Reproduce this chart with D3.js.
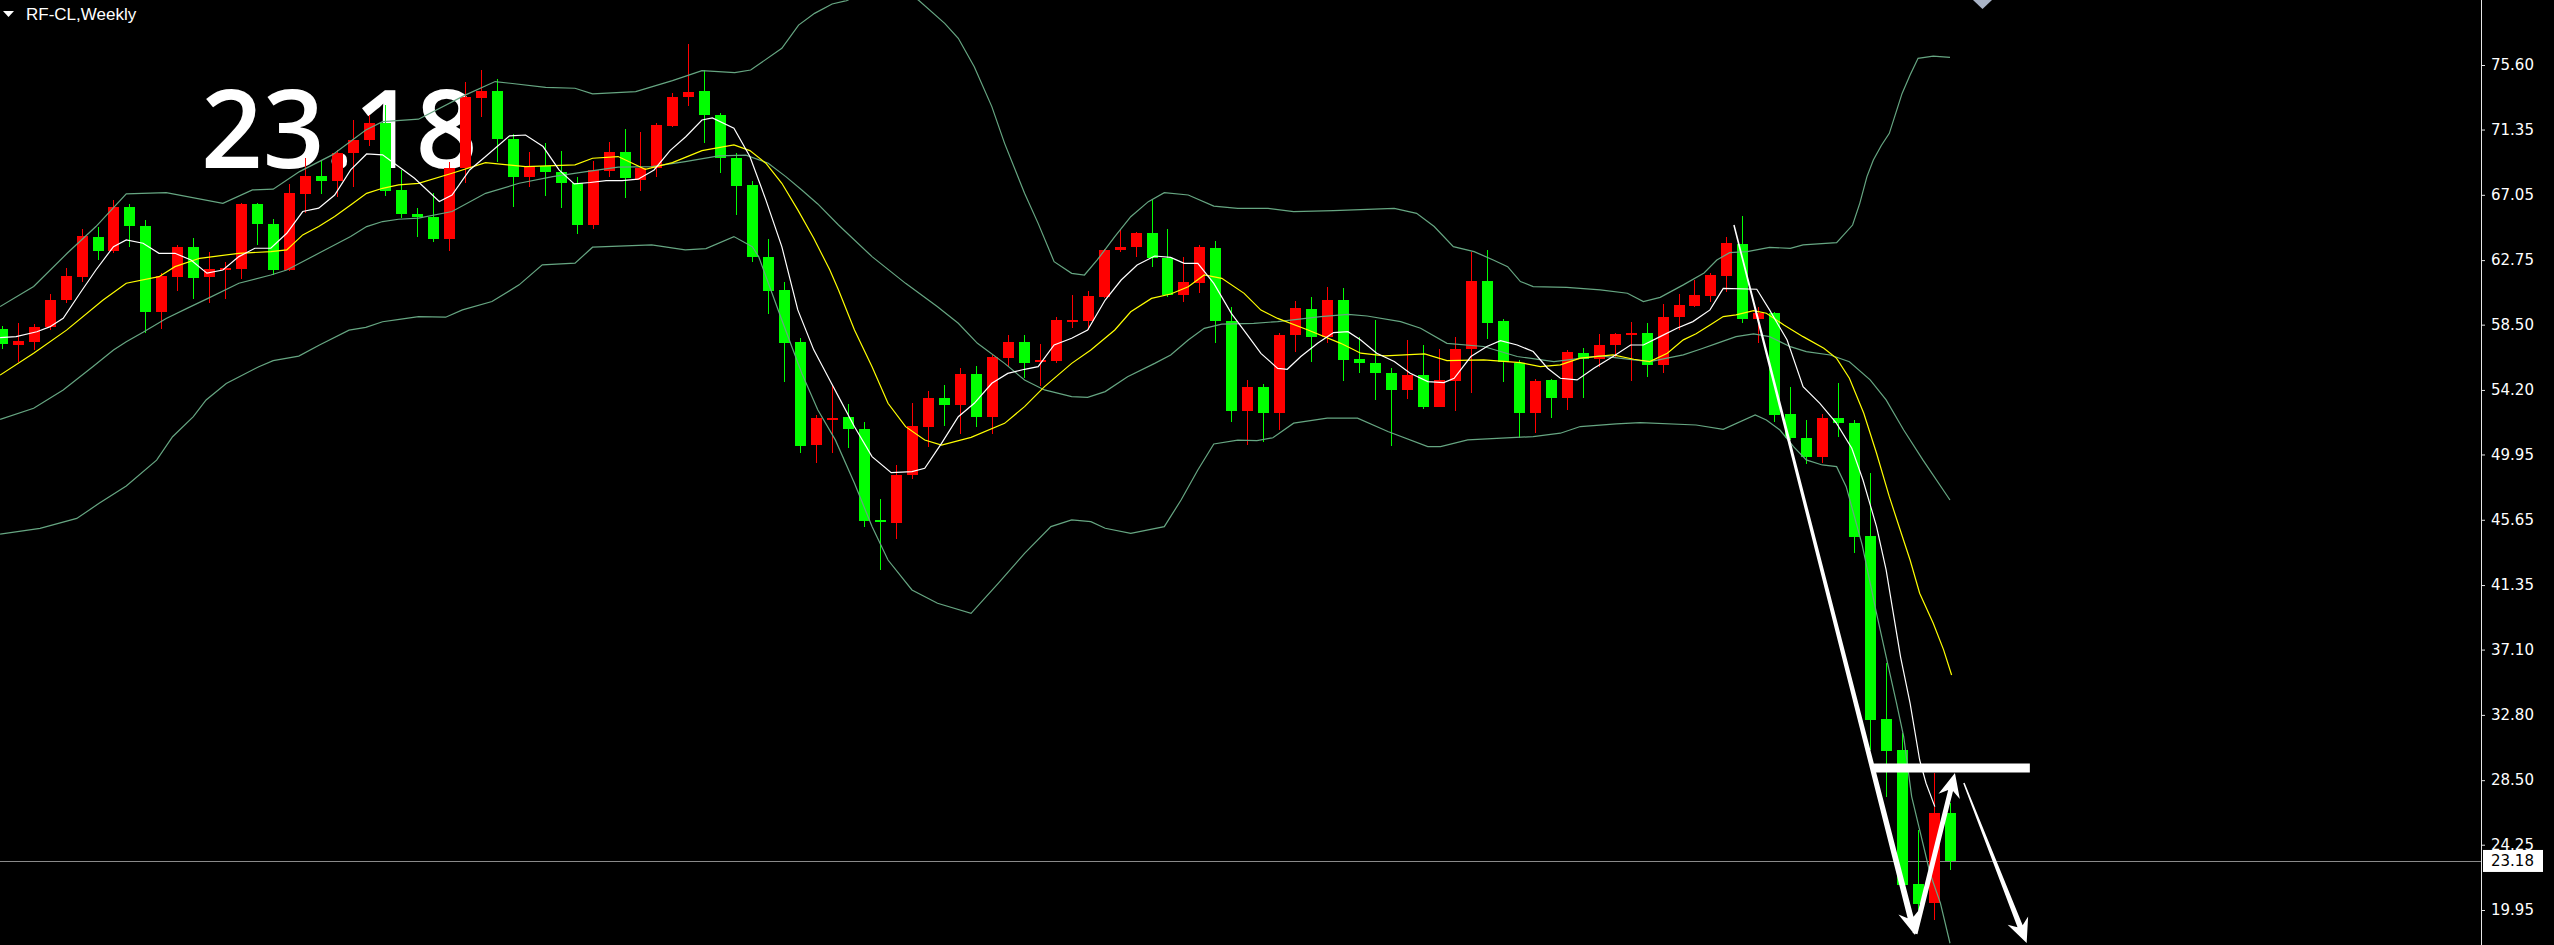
<!DOCTYPE html>
<html>
<head>
<meta charset="utf-8">
<script src="https://cdn.jsdelivr.net/npm/d3@7"></script>
<style>
  html, body { margin: 0; padding: 0; background: #000; overflow: hidden; }
  svg { display: block; }
</style>
</head>
<body>
<svg id="chart" width="2554" height="945"></svg>
<script>
// Weekly candles (bar 1 = leftmost, partly cut off)
const opens = [58.20,57.19,57.38,58.37,60.13,61.62,64.25,63.38,66.27,65.00,
  59.36,61.66,63.60,61.62,62.10,62.15,66.45,65.13,62.10,67.11,
  68.29,67.99,69.79,70.67,71.81,67.37,65.79,65.57,64.15,68.80,
  73.45,73.89,70.71,68.25,68.95,68.58,67.81,65.07,68.65,69.90,
  68.03,68.80,71.59,73.48,73.89,72.31,69.46,67.70,62.94,60.79,
  57.39,50.58,52.34,52.40,51.61,45.64,45.46,48.60,51.78,53.65,
  53.21,55.25,52.44,56.28,57.33,56.04,56.13,58.70,58.76,60.34,
  63.42,63.63,64.51,62.87,60.45,61.26,63.52,58.76,52.84,54.42,
  52.66,57.82,59.51,57.67,60.13,56.22,56.00,55.30,54.20,55.19,
  53.10,54.82,56.88,61.38,58.74,56.00,52.66,54.86,53.65,56.66,
  56.22,57.16,57.87,57.98,55.85,58.99,59.73,60.39,61.70,63.81,
  58.87,59.29,52.62,51.01,49.76,52.33,52.05,44.58,32.51,30.49,
  21.67,20.40,26.37];
const highs = [58.40,58.59,58.55,60.52,62.21,64.78,64.96,66.71,66.45,65.40,
  61.88,63.75,64.19,63.31,62.65,66.54,66.54,65.44,67.77,69.46,
  69.35,70.01,71.98,72.31,72.97,68.69,66.16,67.15,69.24,74.51,
  75.28,74.66,71.06,69.90,70.45,69.96,68.25,69.31,70.56,71.37,
  71.22,71.76,73.74,76.99,75.28,72.47,69.83,67.99,64.12,61.34,
  57.61,52.56,54.53,53.28,52.11,47.00,49.26,53.32,54.15,54.53,
  55.62,55.78,56.50,57.82,57.82,57.22,59.03,60.45,60.74,63.46,
  64.78,64.62,66.71,64.78,62.98,63.74,64.03,59.68,54.85,54.59,
  57.98,60.08,60.30,60.96,60.90,57.71,58.81,55.63,57.49,57.16,
  56.88,57.71,63.31,63.42,58.85,56.18,54.90,54.90,56.84,56.95,
  57.89,57.98,58.70,58.63,59.86,60.52,61.45,61.92,64.29,65.66,
  59.68,59.36,54.42,52.22,52.62,54.64,52.22,48.71,36.20,31.59,
  25.22,28.96,26.98];
const lows = [56.90,56.07,56.83,58.15,59.91,61.33,62.76,63.20,63.64,57.98,
  58.20,60.74,60.17,59.95,60.17,61.49,63.75,61.77,62.06,65.83,
  67.11,66.93,67.59,70.27,66.98,65.51,64.25,63.97,63.38,67.81,
  72.16,69.24,66.28,67.59,66.94,66.17,64.48,64.78,68.21,66.83,
  67.33,68.25,71.50,72.90,70.45,68.47,65.73,62.65,59.21,54.75,
  50.08,49.42,50.08,50.36,45.15,42.34,44.36,48.31,50.42,51.83,
  51.30,51.78,51.30,55.69,54.96,54.46,55.95,58.26,58.15,60.23,
  63.31,62.98,62.27,60.34,60.01,60.61,57.31,52.11,50.57,50.79,
  51.57,56.73,56.07,57.32,54.82,55.34,53.54,50.51,53.59,52.93,
  53.06,52.84,53.98,57.54,54.75,51.02,51.39,52.34,52.88,53.65,
  55.74,56.29,54.82,55.04,55.34,58.15,59.69,60.01,60.67,58.63,
  57.31,52.11,50.90,49.32,49.41,51.12,43.44,30.49,27.42,21.54,
  19.96,19.30,22.59];
const closes = [57.23,57.43,58.37,60.13,61.71,64.34,63.38,66.27,65.02,59.36,
  61.71,63.60,61.55,62.15,62.23,66.45,65.13,62.10,67.20,68.29,
  67.99,69.79,70.67,71.76,67.33,65.79,65.57,64.15,68.80,73.52,
  73.89,70.71,68.25,68.95,68.58,67.81,65.07,68.69,69.90,68.14,
  68.80,71.65,73.48,73.85,72.31,69.46,67.64,62.98,60.74,57.28,
  50.52,52.34,52.38,51.61,45.59,45.50,48.60,51.83,53.65,53.21,
  55.25,52.44,56.39,57.33,56.00,56.17,58.81,58.81,60.39,63.42,
  63.63,64.51,62.87,60.45,61.33,63.59,58.76,52.84,54.42,52.66,
  57.82,59.58,57.67,60.13,56.18,56.00,55.34,54.20,55.19,53.06,
  54.86,56.88,61.38,58.63,56.07,52.66,54.82,53.65,56.73,56.22,
  57.16,57.89,57.98,55.85,58.99,59.80,60.46,61.77,63.90,58.87,
  59.29,52.55,51.01,49.76,52.33,52.05,44.54,32.47,30.45,21.60,
  20.35,26.37,23.18];

// Indicator lines, read as [bar, price]
const maFast = [[0.9,57.65],[1.9,57.71],[3.2,58.03],[4,58.35],[4.85,58.92],[5.9,60.57],[6.9,62.1],[8,63.64],[8.8,64.08],[9.85,63.86],
  [10.85,63.2],[11.85,63.2],[12.85,62.76],[13.85,61.89],[14.85,62.1],[15.85,62.98],[16.85,63.53],[17.85,63.53],[18.85,64.52],[19.85,65.95],
  [20.85,66.17],[21.85,67.04],[22.85,68.69],[23.85,69.74],[24.85,69.68],[25.85,68.91],[26.85,68.14],[28.4,66.61],[29.2,67.04],[30.3,68.69],
  [31.3,69.57],[32.8,70.93],[33.8,70.99],[34.9,70.23],[35.9,68.69],[36.85,67.77],[37.85,67.86],[38.85,67.99],[39.85,67.99],[40.85,68.08],
  [41.85,68.69],[42.85,69.96],[43.85,70.89],[44.85,71.98],[45.5,72.12],[46.85,71.43],[47.85,69.57],[48.85,66.72],[49.85,63.64],[50.85,59.47],
  [51.85,56.84],[52.85,54.86],[53.4,53.76],[54.4,51.78],[55.5,49.81],[56.7,48.75],[58,48.82],[58.8,49.04],[59.85,50.68],[60.9,52.44],
  [61.9,53.32],[63,54.64],[64,55.29],[65.05,55.56],[65.9,55.73],[66.9,57.16],[68,57.6],[69,58.15],[70.1,60.12],[71.1,61.44],
  [72.1,62.43],[73.2,63.02],[74.2,62.93],[75.05,62.54],[75.9,62.54],[76.9,61.22],[78,59.24],[79,57.82],[79.85,56.61],[80.9,55.62],
  [81.5,55.56],[82.35,56.4],[83.4,57.27],[84.4,57.98],[85.3,58.04],[86.1,57.49],[87.1,56.62],[88.2,56.07],[89.2,55.3],[90.3,54.75],
  [91.3,54.68],[91.95,54.97],[93,56.4],[94,57.06],[94.85,57.45],[95.9,57.16],[96.9,56.73],[97.8,55.63],[98.6,54.97],[99.65,54.86],
  [100.7,55.63],[101.9,56.4],[103,57.16],[103.8,57.16],[104.85,57.71],[105.9,58.26],[106.9,58.7],[107.97,59.47],[108.8,60.89],[110.9,60.83],
  [111.7,59.47],[112.8,57.49],[113.8,54.42],[114.85,53.32],[115.9,52],[116.85,50.36],[117.55,48.27],[118.4,45.2],[119,42.35],[119.45,39.49],
  [119.9,36.64],[120.5,33.57],[121.1,29.83],[121.5,28.3],[122.05,26.76]];

const maSlow = [[0.9,55.18],[3,56.61],[5.06,58.14],[7.35,60.12],[8.8,61.23],[10.85,61.66],[11.85,62.32],[13.4,62.87],[15.85,63.2],[17.85,63.31],
  [18.85,63.42],[19.85,64.41],[20.85,64.96],[21.85,65.62],[22.85,66.38],[23.85,67.15],[24.85,67.48],[25.85,67.7],[27.1,67.81],[29.2,68.47],
  [31.3,69.17],[33.8,68.91],[36.9,69.02],[38,69.46],[39.6,69.57],[41.3,68.73],[43,69.17],[44.85,69.96],[46.85,70.34],[47.85,69.96],
  [48.85,69.13],[49.85,67.81],[50.85,66.06],[51.85,64.19],[52.85,62.11],[53.4,60.78],[54.4,58.15],[55.5,55.73],[56.5,53.32],[57.6,51.78],
  [58.8,50.9],[59.85,50.57],[61.7,51.08],[63.8,52],[65.05,53.1],[66.3,54.42],[68,55.95],[69.2,56.83],[70.7,58.15],[71.7,59.35],
  [73,60.23],[74.2,60.52],[75.3,61],[76.3,61.77],[77.4,61.55],[78.8,60.56],[79.85,59.46],[80.9,58.91],[82.8,58.15],[84.85,57.27],
  [86.1,56.62],[87.6,56.44],[90.1,56.57],[91.5,56.13],[93.8,56.18],[96.1,56],[97.35,55.74],[98.6,55.85],[99.85,56.29],[101.9,56.51],
  [103.2,56.22],[104.2,56.07],[105.3,56.62],[106.3,57.5],[107.1,57.9],[108,58.5],[108.8,59.03],[109.6,59.14],[110.7,59.42],[111.5,59.25],
  [112.6,58.48],[113.8,57.71],[115.1,56.94],[115.9,56.28],[116.7,54.97],[117.6,52.66],[118.4,50.03],[119.2,47.17],[120,44.6],[120.5,43],
  [121.1,40.81],[121.95,38.83],[122.6,37.08],[123.1,35.43]];

const bandMid = [[0.9,52.26],[3,52.99],[4.85,54.19],[6.7,55.73],[8,56.83],[8.8,57.38],[9.85,58],[11.3,58.91],[12.6,59.57],[13.85,60.2],
  [15.85,61.23],[17.85,61.77],[18.85,62.1],[20.85,63.2],[22.85,64.3],[23.85,64.96],[24.85,65.29],[25.85,65.44],[27.1,65.51],[29.2,65.95],
  [31.3,67.15],[33.4,67.81],[35.5,68.25],[37.6,68.58],[39.6,68.87],[41.7,68.91],[43.8,69.24],[45.9,69.61],[47.6,69.66],[49,69.13],
  [50.1,68.25],[51.1,67.37],[52.1,66.45],[53.4,65.06],[55.5,62.98],[57.6,61.22],[59.6,59.68],[60.9,58.59],[62.1,57.27],[63.8,55.95],
  [65.05,54.85],[66.3,54.2],[68,53.76],[69,53.71],[70.1,54.09],[71.5,55.07],[73.2,55.95],[74.2,56.5],[75.3,57.49],[76.3,58.26],
  [77.4,58.54],[79.4,58.59],[80.9,58.7],[83.6,59.03],[85.3,59.18],[86.5,59.07],[88.6,58.7],[89.85,58.26],[91.5,57.27],[93.8,57.06],
  [95.9,56.4],[98.2,56.07],[101.1,56.44],[103.2,56.18],[104.2,56.07],[106.3,56.51],[107.4,56.9],[108.4,57.27],[109.6,57.71],[110.7,57.89],
  [111.7,57.71],[113,57.05],[114,56.72],[115.5,56.5],[116.7,56.06],[118,54.86],[119,53.54],[120.1,51.56],[121.3,49.59],[123,46.95]];

const bandUpper = [[0.9,59.69],[3,61.01],[5.1,63.2],[6.9,64.96],[8.8,67.11],[11.3,67.2],[14.85,66.49],[16.7,67.37],[18,67.42],[19.65,68.58],
  [21.7,69.68],[23.8,71.32],[24.85,71.87],[27.1,72.03],[30.05,73.63],[31.9,74.51],[35.06,74.13],[36.9,74.07],[38,73.7],[40.7,73.85],
  [43,74.57],[44.85,75.23],[46.9,75.1],[47.9,75.27],[49.85,76.7],[50.9,78.23],[51.9,79],[53,79.62],[53.9,79.84],[55.5,80.6],
  [57,80.6],[58.4,79.88],[60.05,78.34],[60.9,77.36],[61.9,75.49],[63,72.86],[63.8,70.44],[65.05,67.15],[65.9,65.17],[66.9,62.65],
  [68,61.88],[68.8,61.77],[69.6,62.76],[70.7,64.29],[71.7,65.61],[72.8,66.6],[73.8,67.19],[75.3,67.04],[76.9,66.31],[78.4,66.16],
  [80.3,66.16],[81.9,65.94],[84.4,66.01],[88.2,66.16],[89.6,65.83],[90.7,64.96],[91.9,63.64],[93.2,63.31],[94.4,62.76],[95.3,62.32],
  [96.1,61.34],[96.9,61.01],[99,60.96],[101.1,60.79],[102.8,60.57],[103.8,60.02],[104.85,60.3],[106.3,61.12],[107.6,61.9],[108.4,62.76],
  [109.2,63.24],[110.3,63.31],[111.7,63.59],[113,63.53],[113.8,63.75],[115.9,63.9],[116.9,65.06],[117.35,66.49],[117.8,68.25],[118.2,69.34],
  [118.7,70.3],[119.2,71.1],[120,73.73],[120.5,74.94],[121,76.04],[121.95,76.19],[123,76.1]];

const bandLower = [[0.9,44.71],[3.4,45.08],[5.7,45.74],[7.1,46.73],[8.8,47.87],[10.7,49.58],[11.7,51.12],[13,52.44],[13.8,53.54],[15.06,54.63],
  [17.1,55.73],[18,56.13],[19.6,56.43],[20.9,57.16],[22.75,58.14],[23.8,58.32],[24.85,58.69],[25.9,58.85],[27.1,59.03],[28.8,58.99],
  [29.85,59.47],[31.7,60.02],[33.4,61.12],[34.85,62.44],[36.9,62.55],[38,63.6],[41.7,63.75],[43.8,63.42],[45.1,63.51],[46.85,64.3],
  [48,63.64],[48.4,62.98],[49.85,58.81],[51.1,55.3],[52.1,52.89],[53.2,50.91],[54.4,48.05],[55.5,45.2],[56.5,43],[58,41.03],
  [59.6,40.15],[61.7,39.49],[63.4,41.46],[65.05,43.44],[66.7,45.2],[68,45.64],[69.2,45.53],[70.1,45.09],[71.7,44.76],[73.8,45.2],
  [74.85,46.95],[75.9,48.93],[76.9,50.64],[78.4,50.9],[79.6,50.86],[80.6,51.05],[81.9,52.01],[84,52.34],[85.9,52.34],[87.8,51.46],
  [90.3,50.47],[91.1,50.47],[92.8,50.91],[96.9,51.13],[98.6,51.35],[99.85,51.79],[102.1,51.96],[103.6,52.05],[107.1,51.89],[108.8,51.61],
  [110.8,52.55],[111.5,52.22],[112.35,51.56],[113.2,50.47],[114,49.59],[115,49.26],[115.9,49.15],[116.5,47.83],[117.5,44],[118.4,39.49],
  [119,36.64],[119.65,33.57],[120.1,31.37],[120.6,27.42],[121.1,25.23],[121.75,22.37],[122.4,20.4],[123,17.76]];

// Price scale labels and the last price
const tickLabels = ['75.60','71.35','67.05','62.75','58.50','54.20','49.95','45.65','41.35','37.10','32.80','28.50','24.25','19.95'];
const lastPrice = 23.18;
const chartTitle = 'RF-CL,Weekly';

// Hand-drawn annotations, as [bar, price] pairs
const arrowPaths = [
  [[109.47, 65.06], [120.81, 18.30]],
  [[120.81, 18.40], [123.31, 28.97]],
  [[123.87, 28.31], [127.8, 17.78]],
];
const levelBar = [[118.2, 29.30], [128.0, 29.30]];

const svg = d3.select('#chart');
const W = 2554, H = 945;
const plotRight = 2481;

const x = d3.scaleLinear().domain([1, 123]).range([1.7, 1950]);
const y = d3.scaleLinear().domain([19.95, 75.6]).range([910, 65]);

svg.append('rect').attr('width', W).attr('height', H).attr('fill', '#000');

svg.append('defs').append('clipPath').attr('id', 'plot-clip')
  .append('rect').attr('x', 0).attr('y', 0).attr('width', plotRight).attr('height', H);

const plot = svg.append('g').attr('clip-path', 'url(#plot-clip)');

// big price note, sits under the candles
plot.append('text')
  .attr('x', 201).attr('y', 168)
  .attr('fill', '#ffffff')
  .attr('font-family', '"Open Sans", "DejaVu Sans", sans-serif')
  .attr('font-weight', 600)
  .attr('font-size', 108)
  .text(lastPrice.toFixed(2));

// last price line
plot.append('line')
  .attr('x1', 0).attr('x2', plotRight)
  .attr('y1', Math.round(y(lastPrice)) + 0.5).attr('y2', Math.round(y(lastPrice)) + 0.5)
  .attr('stroke', '#8a8a8a').attr('stroke-width', 1);

// candles
const bars = closes.map((c, i) => ({ n: i + 1, o: opens[i], h: highs[i], l: lows[i], c }));
const bodyW = 11;
const candle = plot.append('g').attr('shape-rendering', 'crispEdges')
  .selectAll('g').data(bars).join('g');

candle.append('line')
  .attr('x1', (d) => Math.round(x(d.n)) + 0.5)
  .attr('x2', (d) => Math.round(x(d.n)) + 0.5)
  .attr('y1', (d) => y(d.h))
  .attr('y2', (d) => y(d.l))
  .attr('stroke', (d) => (d.c >= d.o ? '#ff0000' : '#00ff00'))
  .attr('stroke-width', 1);

candle.append('rect')
  .attr('x', (d) => Math.round(x(d.n)) - (bodyW - 1) / 2)
  .attr('y', (d) => y(Math.max(d.o, d.c)))
  .attr('width', bodyW)
  .attr('height', (d) => Math.max(2, Math.abs(y(d.o) - y(d.c))))
  .attr('fill', (d) => (d.c >= d.o ? '#ff0000' : '#00ff00'));

// indicator lines
const line = d3.line().x((d) => x(d[0])).y((d) => y(d[1]));
const bandColor = '#66a682';
[
  [bandUpper, bandColor],
  [bandMid, bandColor],
  [bandLower, bandColor],
  [maSlow, '#ffff00'],
  [maFast, '#ffffff'],
].forEach(([pts, color]) => {
  plot.append('path')
    .datum(pts)
    .attr('d', line)
    .attr('fill', 'none')
    .attr('stroke', color)
    .attr('stroke-width', 1.2);
});

// tapered arrow: thin tail, thicker shaft, barbed head
function arrowShape(p0, p1, w0, w1, headLen, headW) {
  const dx = p1[0] - p0[0], dy = p1[1] - p0[1];
  const len = Math.hypot(dx, dy);
  const ux = dx / len, uy = dy / len;
  const vx = -uy, vy = ux;
  const bx = p1[0] - ux * headLen, by = p1[1] - uy * headLen;
  const nx = p1[0] - ux * headLen * 0.75, ny = p1[1] - uy * headLen * 0.75;
  const pt = (px, py, s) => [px + vx * s, py + vy * s];
  return [
    pt(p0[0], p0[1], w0 / 2),
    pt(nx, ny, w1 / 2),
    pt(bx, by, headW / 2),
    p1,
    pt(bx, by, -headW / 2),
    pt(nx, ny, -w1 / 2),
    pt(p0[0], p0[1], -w0 / 2),
  ];
}

const shaftWidths = [[1.5, 6], [5, 5], [1.5, 5.5]];
arrowPaths.forEach((seg, i) => {
  const p0 = [x(seg[0][0]), y(seg[0][1])];
  const p1 = [x(seg[1][0]), y(seg[1][1])];
  const shape = arrowShape(p0, p1, shaftWidths[i][0], shaftWidths[i][1], 24, 22);
  plot.append('polygon')
    .attr('points', shape.map((p) => p.join(',')).join(' '))
    .attr('fill', '#ffffff');
});

plot.append('line')
  .attr('x1', x(levelBar[0][0])).attr('x2', x(levelBar[1][0]))
  .attr('y1', y(levelBar[0][1])).attr('y2', y(levelBar[1][1]))
  .attr('stroke', '#ffffff').attr('stroke-width', 9);

// title
svg.append('polygon')
  .attr('points', '3,11 14,11 8.5,17')
  .attr('fill', '#ffffff');
svg.append('text')
  .attr('x', 26).attr('y', 20)
  .attr('fill', '#ffffff')
  .attr('font-family', '"Liberation Sans", Arial, sans-serif')
  .attr('font-size', 17)
  .text(chartTitle);

// shift marker at the top
svg.append('polygon')
  .attr('points', '1973,0 1992,0 1982.5,9')
  .attr('fill', '#a9b3c6');

// price axis
svg.append('rect').attr('x', plotRight).attr('y', 0).attr('width', W - plotRight).attr('height', H).attr('fill', '#000');
svg.append('line')
  .attr('x1', plotRight + 0.5).attr('x2', plotRight + 0.5)
  .attr('y1', 0).attr('y2', H)
  .attr('stroke', '#e6e6e6').attr('stroke-width', 1);

const axis = d3.axisRight(y)
  .tickValues(tickLabels.map(Number))
  .tickFormat((d, i) => tickLabels[i])
  .tickSize(4)
  .tickPadding(6);

const axisG = svg.append('g')
  .attr('transform', `translate(${plotRight},0)`)
  .call(axis);
axisG.select('.domain').remove();
axisG.selectAll('.tick line').attr('stroke', '#e6e6e6');
axisG.selectAll('.tick text')
  .attr('fill', '#ffffff')
  .attr('font-family', '"DejaVu Sans", Verdana, sans-serif')
  .attr('font-size', 15);

// last price tag
const tagY = y(lastPrice);
svg.append('rect')
  .attr('x', plotRight + 2).attr('y', tagY - 11)
  .attr('width', 60).attr('height', 22)
  .attr('fill', '#ffffff');
svg.append('text')
  .attr('x', plotRight + 10).attr('y', tagY)
  .attr('dy', '0.35em')
  .attr('fill', '#000000')
  .attr('font-family', '"DejaVu Sans", Verdana, sans-serif')
  .attr('font-size', 15)
  .text(lastPrice.toFixed(2));
</script>
</body>
</html>
